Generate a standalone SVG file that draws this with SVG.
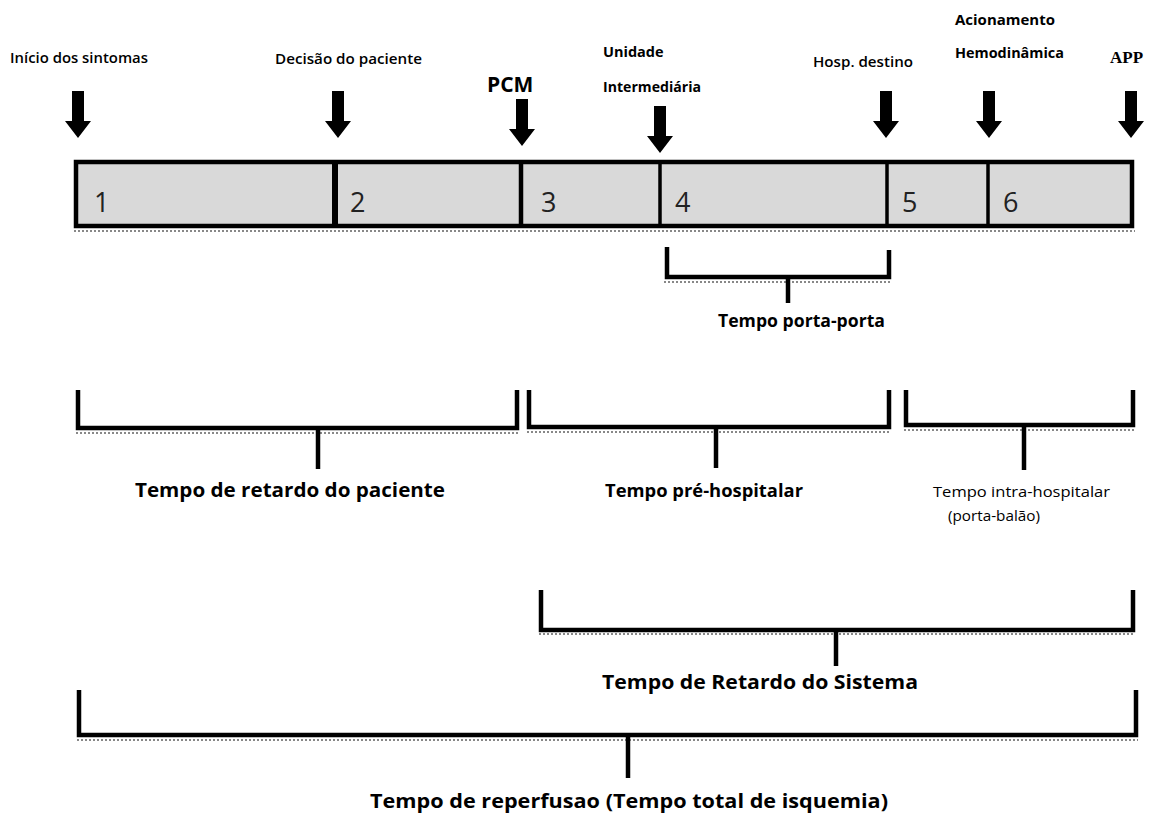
<svg xmlns="http://www.w3.org/2000/svg" width="1150" height="826" viewBox="0 0 1150 826">
<defs>
<style>
.lbl{font-family:"Open Sans","Liberation Sans",sans-serif;fill:#000}
.top{font-size:15px;font-weight:600}
.topb{font-size:14.5px;font-weight:700}
.num{font-family:"Open Sans","Liberation Sans",sans-serif;font-size:27px;fill:#222}
.big{font-weight:700}
.br{fill:none;stroke:#000;stroke-width:4.5;stroke-linejoin:miter}
.stem{stroke:#000;stroke-width:4.5}
.shadow{stroke:#888;stroke-width:2;stroke-dasharray:2 2;fill:none}
.div{stroke:#000}
</style>
<g id="arrowShape">
<path d="M-6,0 H6 V30 H13 L0,47 L-13,30 H-6 Z" fill="#000"/>
</g>
</defs>

<!-- top labels and arrows -->
<g id="n-inicio">
<text class="lbl top" x="10" y="63" textLength="138" lengthAdjust="spacingAndGlyphs">Início dos sintomas</text>
<use href="#arrowShape" x="78" y="91"/>
</g>
<g id="n-decisao">
<text class="lbl top" x="275" y="64" textLength="147" lengthAdjust="spacingAndGlyphs">Decisão do paciente</text>
<use href="#arrowShape" x="338" y="91"/>
</g>
<g id="n-pcm">
<text class="lbl" x="487" y="92" style="font-size:21px;font-weight:700">PCM</text>
<use href="#arrowShape" x="522" y="99"/>
</g>
<g id="n-unidade">
<text class="lbl topb" x="603" y="57">Unidade</text>
<text class="lbl topb" x="603" y="92" textLength="98" lengthAdjust="spacingAndGlyphs">Intermediária</text>
<use href="#arrowShape" x="660" y="106"/>
</g>
<g id="n-hosp">
<text class="lbl top" x="813" y="67" textLength="100" lengthAdjust="spacingAndGlyphs">Hosp. destino</text>
<use href="#arrowShape" x="886" y="91"/>
</g>
<g id="n-hemo">
<text class="lbl topb" x="955" y="25" textLength="100" lengthAdjust="spacingAndGlyphs">Acionamento</text>
<text class="lbl topb" x="955" y="58" textLength="109" lengthAdjust="spacingAndGlyphs">Hemodinâmica</text>
<use href="#arrowShape" x="989" y="91"/>
</g>
<g id="n-app">
<text x="1110" y="63" style="font-family:'Liberation Serif',serif;font-size:17px;font-weight:700">APP</text>
<use href="#arrowShape" x="1131" y="91"/>
</g>

<!-- bar -->
<g id="bar">
<line class="shadow" x1="74" y1="231" x2="1135" y2="231"/>
<rect x="76" y="162" width="1056" height="64" fill="#d9d9d9" stroke="#000" stroke-width="4.5"/>
<line class="div" x1="335" y1="162" x2="335" y2="226" stroke-width="6"/>
<line class="div" x1="521" y1="162" x2="521" y2="226" stroke-width="4.5"/>
<line class="div" x1="660" y1="162" x2="660" y2="226" stroke-width="3.5"/>
<line class="div" x1="887" y1="162" x2="887" y2="226" stroke-width="3.5"/>
<line class="div" x1="988" y1="162" x2="988" y2="226" stroke-width="3.5"/>
<text class="num" x="94" y="212">1</text>
<text class="num" x="350" y="212">2</text>
<text class="num" x="541" y="212">3</text>
<text class="num" x="675" y="212">4</text>
<text class="num" x="902" y="212">5</text>
<text class="num" x="1003" y="212">6</text>
</g>

<!-- connectors / brackets -->
<g id="connectors">
<path class="br" d="M667,247 V277 H889 V250"/>
<line class="shadow" x1="664" y1="282" x2="892" y2="282"/>
<line class="stem" x1="788" y1="277" x2="788" y2="303"/>

<path class="br" d="M78,390 V428 H517 V390"/>
<line class="shadow" x1="76" y1="433" x2="520" y2="433"/>
<line class="stem" x1="318" y1="428" x2="318" y2="469"/>

<path class="br" d="M529,390 V427 H889 V390"/>
<line class="shadow" x1="527" y1="432" x2="891" y2="432"/>
<line class="stem" x1="716" y1="427" x2="716" y2="468"/>

<path class="br" d="M906,390 V425 H1133 V390"/>
<line class="shadow" x1="904" y1="430" x2="1135" y2="430"/>
<line class="stem" x1="1024" y1="425" x2="1024" y2="470"/>

<path class="br" d="M541,590 V630 H1133 V590"/>
<line class="shadow" x1="539" y1="634" x2="1135" y2="634"/>
<line class="stem" x1="836" y1="630" x2="836" y2="666"/>

<path class="br" d="M79,690 V735 H1136 V690"/>
<line class="shadow" x1="77" y1="740" x2="1138" y2="740"/>
<line class="stem" x1="628" y1="735" x2="628" y2="778"/>
</g>

<!-- bracket labels -->
<g id="l-portaporta"><text class="lbl big" x="718" y="327" style="font-size:17.5px" textLength="167" lengthAdjust="spacingAndGlyphs">Tempo porta-porta</text></g>
<g id="l-paciente"><text class="lbl big" x="135" y="497" style="font-size:19.5px" textLength="310" lengthAdjust="spacingAndGlyphs">Tempo de retardo do paciente</text></g>
<g id="l-prehosp"><text class="lbl big" x="605" y="497" style="font-size:18.5px" textLength="198" lengthAdjust="spacingAndGlyphs">Tempo pré-hospitalar</text></g>
<g id="l-intra">
<text class="lbl" x="933" y="497" style="font-size:15px" textLength="177" lengthAdjust="spacingAndGlyphs">Tempo intra-hospitalar</text>
<text class="lbl" x="948" y="521" style="font-size:15px" textLength="92" lengthAdjust="spacingAndGlyphs">(porta-balão)</text>
</g>
<g id="l-sistema"><text class="lbl big" x="602" y="689" style="font-size:19.5px" textLength="316" lengthAdjust="spacingAndGlyphs">Tempo de Retardo do Sistema</text></g>
<g id="l-total"><text class="lbl big" x="370" y="808" style="font-size:20px" textLength="518" lengthAdjust="spacingAndGlyphs">Tempo de reperfusao (Tempo total de isquemia)</text></g>
</svg>
